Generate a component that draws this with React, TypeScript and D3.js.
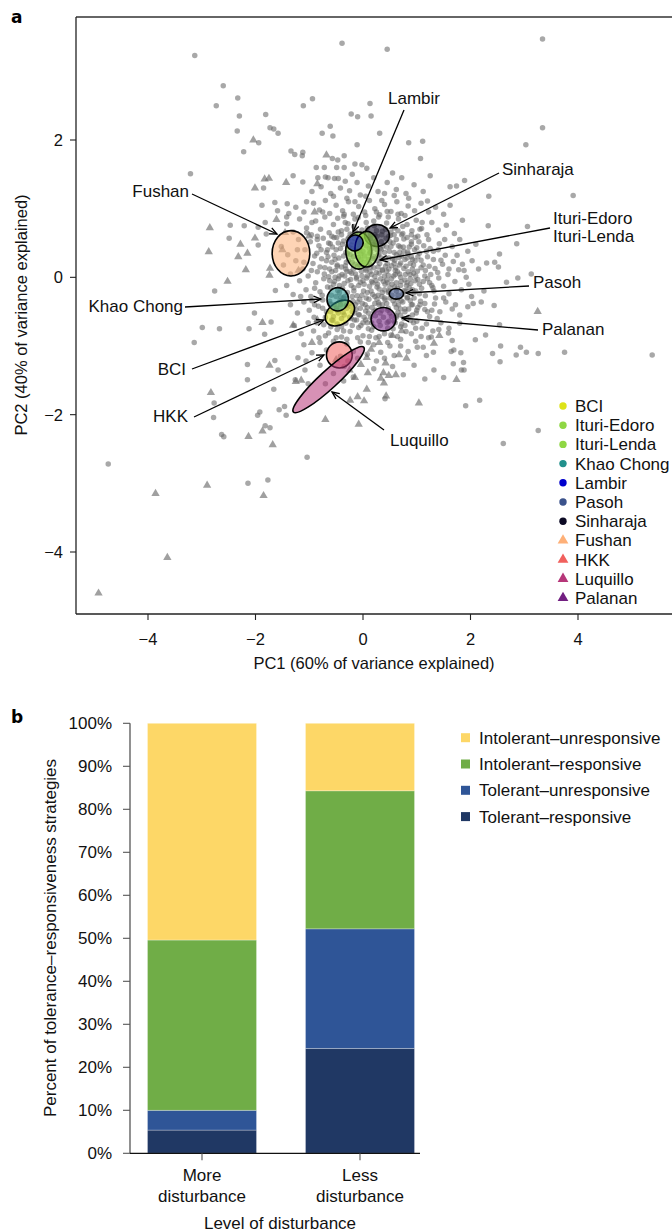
import React from 'react';
import * as d3 from 'd3';

const FONT = '"Liberation Sans", Arial, Helvetica, sans-serif';

// ---------- Panel a data (PC1, PC2) ----------
const outlierCircles: [number, number][] = [
  [-0.39,3.41],[-3.13,3.23],[-2.60,2.79],[-2.33,2.61],[-2.73,2.50],[-2.30,2.35],[-1.81,2.37],[-0.94,2.60],[-1.11,2.50],[-2.34,2.13],
  [-1.73,2.18],[-1.66,2.16],[-1.58,2.10],[-2.22,1.83],[-1.94,1.96],[-3.21,1.51],[-1.34,1.84],[-1.27,1.79],[-1.12,1.82],[-1.13,1.77],
  [-0.76,2.10],[-0.61,2.20],[-0.56,2.06],[-0.22,2.38],[-0.10,2.34],[0.13,2.53],[0.15,2.35],[-0.11,1.93],[-0.57,1.73],[-0.47,1.71],
  [-0.35,1.77],[-0.87,1.60],[-0.72,1.60],[-0.49,1.60],[-0.35,1.60],[-0.15,1.65],[-0.02,1.64],[0.07,1.59],[-1.30,1.48],[-1.12,1.39],
  [-0.84,1.45],[-0.70,1.46],[-0.65,1.45],[-0.53,1.44],[-0.46,1.44],[-0.33,1.40],[-0.11,1.38],[-1.85,1.30],
  [3.34,3.47],[0.45,3.32],[3.34,2.18],[3.03,1.93],[0.31,2.10],[0.85,1.96],[1.11,1.98],[1.07,1.73],[1.25,1.48],[1.89,1.41],
  [1.74,1.33],[1.62,1.32],[2.34,1.18],[3.91,1.19],[1.20,1.11],[2.33,0.75],[3.06,0.74],[2.86,0.49],[2.54,0.34],[2.45,0.22],
  [2.30,0.21],[2.52,0.15],[2.03,0.24],[1.85,0.19],[1.88,0.10],[2.88,-0.01],[3.13,0.05],[2.67,-0.07],[2.44,-0.41],[2.05,-0.38],
  [2.20,-0.36],[2.02,-0.28],
  [5.38,-1.13],[3.75,-1.09],[3.26,-1.11],[3.04,-1.09],[2.93,-1.02],[2.85,-1.13],[2.56,-1.00],[2.41,-1.11],[2.55,-1.23],[2.28,-0.84],
  [2.09,-0.91],[2.54,-0.69],[1.80,-0.67],[1.59,-0.81],[1.66,-0.92],[1.41,-0.76],[1.27,-0.87],[1.82,-1.10],[1.64,-1.08],[1.69,-1.06],
  [1.31,-1.09],[1.18,-1.14],[1.01,-1.02],[1.87,-1.24],[1.68,-1.26],[1.83,-1.35],[1.88,-1.35],[1.32,-1.35],[1.50,-1.46],[2.17,-1.79],
  [1.91,-1.87],[3.26,-2.23],[2.61,-2.42],[0.41,-1.77],
  [-4.74,-2.72],[-2.14,-3.00],[-1.77,-2.95],[-1.04,-2.62],[-2.63,-2.29],[-2.59,-2.32],[-1.82,-2.16],[-1.73,-2.19],[-1.96,-2.01],[-1.92,-1.96],
  [-2.78,-2.04],[-2.77,-1.83],[-1.56,-1.93],[-1.46,-1.88],[-1.43,-2.01],[-1.66,-1.63],[-2.15,-1.49],[-2.15,-1.27],[-2.99,-0.73],[-2.67,-0.75],
  [-3.14,-0.95],[-2.12,-0.75],[-1.83,-0.83],[-1.71,-0.65],[-1.64,-1.21],[-1.58,-1.35],[-1.21,-1.17],[-1.26,-1.49],[-1.08,-1.35],[-1.06,-1.22],
  [-1.02,-1.55],[-0.36,-1.51],
  [-2.47,0.76],[-2.21,0.75],[-2.49,0.57],[-1.95,0.73],[-1.95,0.47],[-2.76,-0.20],[-1.88,1.05],[-1.64,1.09],[-1.59,0.97],[-1.41,1.07],
  [-1.42,0.88],[-1.82,0.80],[-1.80,0.63],[-1.63,-0.19],[-2.02,-0.52]
];

const coreCircles: [number, number][] = [
  [-0.95,1.25],[-0.78,1.32],[-0.60,1.22],[-0.42,1.30],[-0.25,1.26],[-0.05,1.20],[0.10,1.33],[0.28,1.25],[0.45,1.38],[0.62,1.28],
  [0.80,1.22],[0.95,1.35],[0.20,1.45],[-0.20,1.50],[0.55,1.52],[-1.05,1.10],[1.12,1.25],[0.35,1.12],[-0.30,1.15],[0.72,1.45],
  [-1.25,1.02],[-1.10,0.95],[-0.92,1.08],[-0.81,0.98],[-0.70,1.12],[-0.62,0.93],[-0.50,1.05],[-0.38,0.97],[-0.27,1.10],[-0.18,0.92],
  [-0.08,1.03],[0.03,0.95],[0.12,1.12],[0.22,1.00],[0.31,0.91],[0.40,1.06],[0.52,0.96],[0.63,1.10],[0.71,0.93],[0.84,1.04],
  [0.96,0.97],[1.08,1.08],[1.22,0.95],[1.35,1.02],[1.50,0.92],[-0.55,1.18],[0.05,1.18],[0.58,1.19],[-1.38,0.93],[1.62,1.05],
  [-1.42,0.78],[-1.30,0.66],[-1.18,0.85],[-1.05,0.72],[-0.96,0.62],[-0.88,0.82],[-0.79,0.70],[-0.71,0.88],[-0.63,0.65],[-0.55,0.77],
  [-0.47,0.86],[-0.40,0.68],[-0.33,0.80],[-0.24,0.63],[-0.17,0.74],[-0.09,0.87],[-0.02,0.69],[0.06,0.80],[0.14,0.62],[0.21,0.75],
  [0.29,0.88],[0.36,0.67],[0.44,0.79],[0.51,0.61],[0.58,0.72],[0.66,0.85],[0.74,0.64],[0.82,0.77],[0.91,0.68],[0.99,0.83],
  [1.09,0.71],[1.19,0.62],[1.28,0.80],[1.40,0.69],[1.55,0.76],[1.70,0.64],[1.85,0.83],[-0.85,0.60],[-0.13,0.66],[0.47,0.88],
  [0.78,0.90],[1.02,0.60],[-0.58,0.60],[0.25,0.68],[-0.36,0.89],
  [-1.52,0.45],[-1.40,0.33],[-1.20,0.55],[-1.08,0.40],[-0.98,0.52],[-0.90,0.31],[-0.82,0.46],[-0.74,0.57],[-0.68,0.36],[-0.61,0.49],
  [-0.54,0.32],[-0.49,0.58],[-0.42,0.42],[-0.36,0.53],[-0.29,0.35],[-0.22,0.47],[-0.16,0.57],[-0.11,0.38],[-0.04,0.50],[0.03,0.31],
  [0.09,0.55],[0.16,0.42],[0.23,0.52],[0.30,0.34],[0.37,0.46],[0.43,0.57],[0.49,0.38],[0.56,0.50],[0.62,0.33],[0.69,0.44],
  [0.76,0.56],[0.83,0.37],[0.90,0.48],[0.97,0.58],[1.05,0.35],[1.13,0.46],[1.22,0.55],[1.31,0.38],[1.42,0.49],[1.53,0.32],
  [1.66,0.45],[1.80,0.55],[1.95,0.38],[2.10,0.48],[-0.78,0.40],[-0.26,0.58],[0.26,0.40],[0.72,0.31],[1.00,0.43],[0.12,0.35],
  [-0.57,0.44],[0.52,0.45],[-0.06,0.42],[1.25,0.42],[0.40,0.36],
  [-1.48,0.18],[-1.35,0.05],[-1.25,0.24],[-1.12,0.12],[-1.02,0.02],[-0.93,0.20],[-0.85,0.08],[-0.77,0.27],[-0.71,0.14],[-0.64,0.01],
  [-0.58,0.22],[-0.51,0.10],[-0.45,0.28],[-0.39,0.04],[-0.33,0.17],[-0.27,0.25],[-0.21,0.06],[-0.15,0.19],[-0.09,0.29],[-0.03,0.09],
  [0.02,0.22],[0.08,0.02],[0.14,0.15],[0.19,0.27],[0.25,0.07],[0.31,0.20],[0.36,0.11],[0.42,0.28],[0.47,0.03],[0.53,0.17],
  [0.59,0.25],[0.64,0.08],[0.70,0.21],[0.76,0.13],[0.82,0.28],[0.88,0.04],[0.94,0.18],[1.01,0.09],[1.08,0.25],[1.15,0.02],
  [1.23,0.16],[1.31,0.26],[1.39,0.07],[1.48,0.19],[1.58,0.04],[1.68,0.23],[1.78,0.11],[1.92,0.00],[2.15,0.12],[-0.68,0.24],
  [-0.18,0.12],[0.28,0.15],[0.61,0.14],[0.97,0.24],[-0.48,0.18],[0.05,0.12],[0.45,0.20],[0.79,0.04],[1.12,0.18],[-0.96,0.10],
  [-0.30,0.09],[0.22,0.01],[0.67,0.29],[1.34,0.13],
  [-1.42,-0.12],[-1.30,-0.25],[-1.18,-0.05],[-1.06,-0.18],[-0.97,-0.28],[-0.88,-0.08],[-0.80,-0.21],[-0.73,-0.02],[-0.66,-0.14],[-0.59,-0.26],
  [-0.53,-0.06],[-0.47,-0.19],[-0.41,-0.29],[-0.35,-0.09],[-0.29,-0.22],[-0.23,-0.03],[-0.17,-0.15],[-0.11,-0.27],[-0.05,-0.07],[0.01,-0.20],
  [0.07,-0.01],[0.12,-0.13],[0.18,-0.25],[0.24,-0.05],[0.30,-0.17],[0.35,-0.28],[0.41,-0.10],[0.47,-0.22],[0.53,-0.02],[0.59,-0.14],
  [0.65,-0.26],[0.71,-0.06],[0.77,-0.19],[0.83,-0.29],[0.89,-0.09],[0.95,-0.22],[1.02,-0.03],[1.09,-0.16],[1.16,-0.27],[1.24,-0.08],
  [1.32,-0.20],[1.41,-0.01],[1.50,-0.13],[1.60,-0.24],[1.71,-0.06],[1.83,-0.18],[1.97,-0.10],[2.25,-0.20],[-0.62,-0.05],[-0.08,-0.12],
  [0.44,-0.04],[0.86,-0.15],[1.28,-0.12],[-0.38,-0.16],[0.15,-0.20],[0.62,-0.08],[1.05,-0.24],[-0.20,-0.28],[0.27,-0.10],[0.74,-0.25],
  [1.20,-0.02],[-0.90,-0.16],[0.00,-0.05],[0.50,-0.15],[0.97,-0.05],
  [-1.35,-0.40],[-1.22,-0.52],[-1.10,-0.36],[-1.00,-0.48],[-0.91,-0.58],[-0.83,-0.42],[-0.75,-0.33],[-0.68,-0.50],[-0.61,-0.39],[-0.55,-0.57],
  [-0.49,-0.45],[-0.43,-0.34],[-0.37,-0.51],[-0.31,-0.41],[-0.25,-0.58],[-0.19,-0.35],[-0.13,-0.47],[-0.07,-0.55],[-0.01,-0.38],[0.05,-0.49],
  [0.11,-0.32],[0.17,-0.44],[0.23,-0.56],[0.29,-0.37],[0.35,-0.48],[0.41,-0.33],[0.47,-0.45],[0.53,-0.57],[0.59,-0.39],[0.65,-0.51],
  [0.71,-0.34],[0.78,-0.46],[0.85,-0.58],[0.92,-0.40],[0.99,-0.52],[1.07,-0.35],[1.15,-0.47],[1.24,-0.57],[1.33,-0.39],[1.43,-0.50],
  [1.54,-0.36],[1.66,-0.46],[1.80,-0.55],[1.95,-0.43],[-0.70,-0.58],[-0.22,-0.43],[0.20,-0.50],[0.62,-0.44],[1.02,-0.44],[-0.46,-0.52],
  [0.02,-0.58],[0.44,-0.38],[0.88,-0.34],[1.28,-0.48],[-0.95,-0.34],[0.26,-0.32],[0.70,-0.55],
  [-1.28,-0.70],[-1.15,-0.82],[-1.02,-0.66],[-0.92,-0.78],[-0.82,-0.88],[-0.73,-0.69],[-0.64,-0.81],[-0.56,-0.63],[-0.48,-0.76],[-0.40,-0.87],
  [-0.32,-0.67],[-0.24,-0.79],[-0.16,-0.62],[-0.08,-0.73],[0.00,-0.85],[0.08,-0.66],[0.16,-0.77],[0.24,-0.88],[0.32,-0.70],[0.40,-0.82],
  [0.48,-0.64],[0.56,-0.75],[0.64,-0.86],[0.72,-0.68],[0.80,-0.79],[0.89,-0.63],[0.98,-0.74],[1.08,-0.86],[1.18,-0.68],[1.30,-0.78],
  [1.45,-0.66],[1.60,-0.74],[-0.60,-0.72],[-0.20,-0.70],[0.20,-0.72],[0.60,-0.66],[1.00,-0.64],[-0.36,-0.78],[0.12,-0.86],[0.52,-0.84],
  [-1.10,-0.98],[-0.95,-1.10],[-0.80,-0.95],[-0.68,-1.06],[-0.55,-0.93],[-0.42,-1.15],[-0.30,-0.97],[-0.18,-1.08],[-0.05,-0.94],[0.08,-1.12],
  [0.20,-0.98],[0.33,-1.09],[0.46,-0.95],[0.58,-1.14],[0.70,-1.00],[0.84,-1.08],[0.98,-0.93],[1.12,-1.02],[-0.10,-1.18],[0.40,-1.18],
  [0.25,-1.22],[-0.28,-1.22],
  [-0.80,-1.28],[-0.55,-1.40],[-0.35,-1.30],[-0.18,-1.45],[0.20,-1.33],[0.55,-1.30],[0.75,-1.42],[0.95,-1.28],[1.15,-1.48],[-0.70,-1.55],
  [-0.44,0.02],[-0.36,0.31],[-0.12,-0.02],[0.10,0.26],[0.33,-0.02],[0.58,0.36],[0.81,-0.12],[0.92,0.12],[-0.26,-0.38],[0.06,-0.30],
  [0.38,-0.58],[0.66,-0.40],[0.95,-0.30],[-0.50,-0.28],[-0.15,0.40],[0.18,0.48],[0.48,0.12],[0.75,0.44],[-0.32,0.12],[0.00,0.38],
  [0.32,0.42],[0.62,-0.20],[0.85,-0.46],[-0.05,-0.45],[0.22,-0.38],[0.50,-0.30],[0.78,-0.04],[-0.42,-0.40],[-0.20,0.22],[0.13,0.08],
  [0.40,-0.18],[0.68,0.05],[1.05,-0.10],[-0.60,-0.15],[-0.10,0.16],[0.28,-0.26],[0.55,0.27],[0.88,0.20],[-0.35,-0.55],[0.05,-0.62],
  [0.45,-0.66],[0.82,-0.60],[1.15,-0.38],[1.20,0.30],[0.90,0.52],[0.35,0.62],[-0.20,0.52],[-0.65,0.30],[-0.75,-0.45],[-0.48,-0.68],
  [0.10,-0.75],[0.70,-0.72],[1.35,-0.30],[1.45,0.25],[-0.85,0.55],[-0.30,0.70],[0.20,0.82],[0.65,0.68],[1.10,0.80]
];

const denseCircles: [number, number][] = [
  [-0.72,0.05],[-0.55,-0.10],[-0.40,0.15],[-0.28,-0.05],[-0.14,0.05],[0.02,-0.10],[0.16,0.04],[0.30,0.06],[0.44,0.09],[0.57,0.02],
  [0.70,-0.12],[0.84,0.08],[0.98,0.02],[1.12,-0.06],[1.26,0.04],[-0.66,0.40],[-0.52,0.26],[-0.38,0.48],[-0.24,0.33],[-0.08,0.55],
  [0.06,0.46],[0.20,0.30],[0.34,0.52],[0.48,0.28],[0.62,0.55],[0.76,0.38],[0.90,0.30],[1.04,0.52],[1.18,0.38],[-0.62,-0.35],
  [-0.48,-0.48],[-0.34,-0.28],[-0.20,-0.50],[-0.06,-0.32],[0.08,-0.44],[0.22,-0.28],[0.36,-0.40],[0.50,-0.52],[0.64,-0.32],[0.78,-0.50],
  [0.92,-0.55],[1.06,-0.40],[1.20,-0.50],[-0.58,-0.62],[-0.40,-0.72],[-0.22,-0.60],[-0.04,-0.70],[0.14,-0.58],[0.30,-0.64],[0.46,-0.74],
  [0.62,-0.58],[0.78,-0.70],[0.94,-0.66],[-0.46,0.66],[-0.28,0.78],[-0.10,0.62],[0.08,0.72],[0.26,0.60],[0.42,0.70],[0.58,0.62],
  [0.74,0.74],[0.90,0.62],[1.06,0.70],[-0.35,0.92],[-0.15,0.85],[0.05,0.90],[0.25,0.95],[0.45,0.96],[0.65,0.92],[-0.80,0.15],
  [-0.90,-0.40],[-0.86,0.35],[1.30,-0.15],[1.40,0.40],[1.38,-0.60],[-0.70,-0.85],[-0.50,-0.88],[-0.30,-0.90],[-0.10,-0.88],[0.10,-0.95],
  [0.30,-0.86],[0.50,-1.00],[0.70,-0.90],[0.90,-0.82],[1.10,-0.74],[-0.95,0.80],[-0.75,0.95],[0.85,1.15],[0.40,1.22],[-0.15,1.10],
  [-0.62,0.12],[-0.46,-0.02],[-0.31,0.22],[-0.17,-0.20],[-0.02,0.02],[0.12,0.20],[0.26,-0.14],[0.40,0.02],[0.54,-0.26],[0.68,0.18],
  [0.82,-0.30],[0.96,0.40],[-0.54,0.58],[-0.20,0.42],[0.14,0.56],[0.48,0.60],[0.82,0.58],[-0.44,-0.22],[-0.10,-0.36],[0.24,-0.48],
  [0.58,-0.64],[0.92,-0.18],[1.16,0.10],[-0.76,-0.26],[-0.86,-0.66],[1.22,-0.88],[1.50,-0.30],[1.60,0.12],[1.52,0.55],[-1.10,0.22],
  [-1.16,-0.28],[-1.05,0.65],[-1.22,0.40],[1.72,-0.40],[1.75,0.32],[-0.04,0.26],[0.36,-0.22],[0.60,0.04],[0.16,-0.06],[-0.24,0.08],
  [0.80,0.16],[0.46,-0.08],[-0.12,-0.62],[0.34,0.28],[0.70,-0.46]
];

const darkestCircles: [number, number][] = [
  [-0.58,0.08],[-0.50,0.40],[-0.44,-0.12],[-0.40,0.62],[-0.34,0.02],[-0.30,-0.45],[-0.26,0.44],[-0.22,-0.12],[-0.18,0.30],[-0.14,-0.40],
  [-0.10,0.48],[-0.06,0.18],[-0.02,-0.26],[0.02,0.60],[0.06,0.10],[0.10,-0.52],[0.14,0.36],[0.18,-0.08],[0.22,0.62],[0.26,0.24],
  [0.30,-0.40],[0.34,0.40],[0.38,-0.06],[0.42,0.16],[0.46,-0.48],[0.50,0.52],[0.54,-0.10],[0.58,0.20],[0.62,-0.56],[0.66,0.46],
  [0.70,0.00],[0.74,-0.36],[0.78,0.26],[0.82,-0.08],[0.86,0.44],[0.90,-0.40],[0.94,0.06],[0.98,-0.20],[1.02,0.30],[-0.54,-0.40],
  [-0.48,0.16],[-0.36,-0.30],[-0.28,0.56],[-0.16,-0.52],[-0.04,0.34],[0.08,-0.22],[0.20,0.14],[0.32,-0.52],[0.44,0.44],[0.56,-0.34],
  [0.68,0.36],[0.80,-0.20],[0.92,0.26],[-0.46,0.50],[-0.32,0.36],[-0.12,0.00],[0.04,-0.40],[0.24,0.46],[0.40,-0.30],[0.60,0.10],
  [0.76,-0.60],[0.88,-0.02],[-0.60,-0.50],[-0.20,0.62],[0.16,-0.66],[0.52,0.66],[0.72,0.62],[-0.40,-0.60],[0.00,-0.66],[0.36,0.10],
  [-0.52,0.00],[-0.08,-0.54],[0.28,0.32],[0.64,-0.16],[1.00,-0.48],[1.08,0.14],[-0.64,0.50],[0.12,0.42],[0.48,-0.20],[0.84,0.34]
];

const trianglePts: [number, number][] = [
  [-2.04,2.00],[-1.83,1.43],[-1.75,1.44],[-1.43,1.38],[-2.01,1.30],[-0.68,1.78],[-1.61,0.84],[-2.01,0.57],[-2.85,0.72],[-2.87,0.37],
  [-2.28,0.48],[-2.15,0.35],[-2.32,0.30],[-2.18,0.11],[-2.52,-0.06],[-1.74,0.03],[-1.73,0.13],[-1.87,-0.66],[-0.85,1.36],
  [-4.92,-4.60],[-3.64,-4.08],[-3.86,-3.15],[-2.90,-3.03],[-1.85,-3.18],[-1.68,-2.44],[-2.13,-2.32],[-1.87,-2.24],[-2.83,-1.68],[-0.70,-2.07],
  [-0.08,-2.14],[-1.74,-1.28],[-0.24,-1.79],[-0.10,-1.74],[0.02,-1.80],[0.07,-1.63],[0.09,-1.39],[-0.15,-1.46],[-0.04,-1.27],[0.07,-1.17],
  [-1.15,-1.50],[3.25,-0.50],[0.42,-1.25],[0.38,-1.39],[0.33,-1.47],[0.48,-1.43],[0.61,-1.42],[0.39,-1.54],[0.43,-1.73],[1.42,-0.85],
  [1.32,-0.96],[1.74,-1.49],[1.04,-1.83],[0.67,-1.13],[0.81,-1.18],[0.55,-0.85],[0.72,-0.78],[0.30,-0.95],[0.15,-1.05],[-0.25,-1.35],
  [-0.50,-1.20],[-1.50,0.40],[-1.20,0.10],[-1.00,0.60],[-0.90,0.95],[-1.45,0.65],[-1.25,-1.52],[-0.95,-0.95],[-1.30,-0.70],[-0.85,-0.62]
];

// Sites (legend)
const siteNames = ['BCI', 'Ituri-Edoro', 'Ituri-Lenda', 'Khao Chong', 'Lambir', 'Pasoh', 'Sinharaja', 'Fushan', 'HKK', 'Luquillo', 'Palanan'];
const siteShapes = ['circle', 'circle', 'circle', 'circle', 'circle', 'circle', 'circle', 'triangle', 'triangle', 'triangle', 'triangle'];
const siteColors = ['#DDE318', '#8FD744', '#8FD744', '#21908C', '#0000CD', '#3B528B', '#0C0A24', '#FEB078', '#F1605D', '#B63679', '#721F81'];

// Site ellipses (drawing order)
const ellipseSites = ['Fushan', 'HKK', 'Luquillo', 'Palanan', 'BCI', 'Khao Chong', 'Sinharaja', 'Ituri-Edoro', 'Ituri-Lenda', 'Lambir', 'Pasoh'];
const ellipseCx = [-1.34, -0.44, -0.64, 0.38, -0.43, -0.47, 0.26, -0.08, 0.07, -0.15, 0.62];
const ellipseCy = [0.35, -1.13, -1.49, -0.61, -0.52, -0.32, 0.61, 0.39, 0.41, 0.50, -0.24];
const ellipseRx = [0.35, 0.24, 0.89, 0.23, 0.30, 0.20, 0.23, 0.24, 0.22, 0.155, 0.134];
const ellipseRy = [0.33, 0.19, 0.13, 0.17, 0.16, 0.17, 0.16, 0.27, 0.26, 0.114, 0.077];
const ellipseAngle = [0, 0, -42.6, 0, -35, 0, 0, 0, 0, -25, 0];

// ---------- Panel b data ----------
const disturbanceLevels = ['More disturbance', 'Less disturbance'];
const levelLines = [['More', 'disturbance'], ['Less', 'disturbance']];
const strategyNames = ['Tolerant–responsive', 'Tolerant–unresponsive', 'Intolerant–responsive', 'Intolerant–unresponsive'];
const strategyColors = ['#203864', '#2F5597', '#70AD47', '#FDD767'];
const tolerantResponsive = [5.4, 24.4];
const tolerantUnresponsive = [4.6, 27.8];
const intolerantResponsive = [39.6, 32.1];
const intolerantUnresponsive = [50.4, 15.7];
const percentTicks = [0, 10, 20, 30, 40, 50, 60, 70, 80, 90, 100];

// ---------- Layout ----------
const A_LEFT = 76, A_RIGHT = 672, A_TOP = 17, A_BOTTOM = 614;
const x = d3.scaleLinear().domain([-4, 4]).range([148, 578]);
const y = d3.scaleLinear().domain([-4, 2]).range([552, 140]);
const kx = x(1) - x(0);
const ky = y(0) - y(1);

const annotations = [
  { label: ['Fushan'], tx: 189, ty: 197, anchor: 'end', x1: 192, y1: 194, x2: 277, y2: 234 },
  { label: ['Lambir'], tx: 414, ty: 104, anchor: 'middle', x1: 404, y1: 110, x2: 353, y2: 232 },
  { label: ['Sinharaja'], tx: 502, ty: 175, anchor: 'start', x1: 499, y1: 173, x2: 390, y2: 228 },
  { label: ['Ituri-Edoro', 'Ituri-Lenda'], tx: 553, ty: 224, anchor: 'start', x1: 550, y1: 228, x2: 380, y2: 260 },
  { label: ['Pasoh'], tx: 533, ty: 288, anchor: 'start', x1: 529, y1: 286, x2: 406, y2: 293 },
  { label: ['Palanan'], tx: 542, ty: 335, anchor: 'start', x1: 538, y1: 330, x2: 402, y2: 318 },
  { label: ['Luquillo'], tx: 390, ty: 446, anchor: 'start', x1: 384, y1: 430, x2: 332, y2: 392 },
  { label: ['HKK'], tx: 188, ty: 422, anchor: 'end', x1: 194, y1: 417, x2: 324, y2: 355 },
  { label: ['BCI'], tx: 186, ty: 375, anchor: 'end', x1: 192, y1: 369, x2: 324, y2: 320 },
  { label: ['Khao Chong'], tx: 183, ty: 312, anchor: 'end', x1: 185, y1: 307, x2: 321, y2: 299 },
];

const B_LEFT = 130, B_RIGHT = 420;
const yb = d3.scaleLinear().domain([0, 100]).range([1153.3, 723.3]);
const xb = d3.scaleBand().domain(disturbanceLevels).range([123, 439]).paddingInner(0.31).paddingOuter(0.155);

const triSmall = d3.symbol().type(d3.symbolTriangle).size(30)()!;
const triLegend = d3.symbol().type(d3.symbolTriangle).size(50)()!;

function Arrow({ x1, y1, x2, y2 }: any) {
  const ang = Math.atan2(y2 - y1, x2 - x1);
  const len = 8, spread = 0.42;
  const ax = x2 - len * Math.cos(ang - spread), ay = y2 - len * Math.sin(ang - spread);
  const bx = x2 - len * Math.cos(ang + spread), by = y2 - len * Math.sin(ang + spread);
  return (
    <g stroke="#000" strokeWidth={1.3} fill="none">
      <line x1={x1} y1={y1} x2={x2} y2={y2} />
      <polyline points={`${ax},${ay} ${x2},${y2} ${bx},${by}`} />
    </g>
  );
}

export default function App() {
  const allCircles = [...outlierCircles, ...coreCircles, ...denseCircles, ...darkestCircles];
  const series = [tolerantResponsive, tolerantUnresponsive, intolerantResponsive, intolerantUnresponsive];
  const stacked = disturbanceLevels.map((lvl, i) => {
    let acc = 0;
    return series.map((s, k) => {
      const y0 = acc; acc += s[i];
      return { lvl, k, y0, y1: acc };
    });
  });
  const legendBOrder = [3, 2, 1, 0];

  return (
    <svg width={672} height={1232} style={{ position: 'absolute', left: 0, top: 0, background: '#fff' }} fontFamily={FONT}>
      <defs>
        <clipPath id="plotA"><rect x={A_LEFT} y={A_TOP} width={A_RIGHT - A_LEFT} height={A_BOTTOM - A_TOP} /></clipPath>
      </defs>

      {/* Panel a */}
      <text x={11} y={23} fontSize={17} fontWeight="bold" fontFamily='"DejaVu Sans", Arial, sans-serif'>a</text>
      <g clipPath="url(#plotA)">
        {trianglePts.map((p, i) => (
          <path key={'t' + i} d={triSmall} transform={`translate(${x(p[0])},${y(p[1])})`} fill="#666" fillOpacity={0.62} />
        ))}
        {allCircles.map((p, i) => (
          <circle key={'c' + i} cx={x(p[0])} cy={y(p[1])} r={2.75} fill="#666" fillOpacity={0.57} />
        ))}
        {ellipseSites.map((s, i) => {
          const ci = siteNames.indexOf(s);
          const cx = x(ellipseCx[i]), cy = y(ellipseCy[i]);
          return (
            <ellipse key={s} cx={cx} cy={cy} rx={ellipseRx[i] * kx} ry={ellipseRy[i] * ky}
              transform={`rotate(${ellipseAngle[i]} ${cx} ${cy})`}
              fill={siteColors[ci]} fillOpacity={0.55} stroke="#000" strokeWidth={1.6} />
          );
        })}
      </g>
      {/* frame */}
      <line x1={A_LEFT} y1={A_TOP} x2={A_RIGHT} y2={A_TOP} stroke="#333" strokeWidth={1.3} />
      <line x1={A_LEFT} y1={A_TOP} x2={A_LEFT} y2={A_BOTTOM} stroke="#222" strokeWidth={1.3} />
      <line x1={A_LEFT} y1={A_BOTTOM} x2={A_RIGHT} y2={A_BOTTOM} stroke="#222" strokeWidth={1.3} />
      {[-4, -2, 0, 2, 4].map(t => (
        <g key={'xt' + t}>
          <line x1={x(t)} x2={x(t)} y1={A_BOTTOM} y2={A_BOTTOM + 6} stroke="#222" strokeWidth={1.1} />
          <text x={x(t)} y={A_BOTTOM + 31} fontSize={16.5} textAnchor="middle" fill="#111">{t < 0 ? '−' + Math.abs(t) : String(t)}</text>
        </g>
      ))}
      {[-4, -2, 0, 2].map(t => (
        <g key={'yt' + t}>
          <line x1={A_LEFT - 6} x2={A_LEFT} y1={y(t)} y2={y(t)} stroke="#222" strokeWidth={1.1} />
          <text x={A_LEFT - 13} y={y(t) + 6} fontSize={16.5} textAnchor="end" fill="#111">{t < 0 ? '−' + Math.abs(t) : String(t)}</text>
        </g>
      ))}
      <text x={374} y={669} fontSize={16.5} textAnchor="middle" fill="#111">PC1 (60% of variance explained)</text>
      <text transform={`translate(27,315) rotate(-90)`} fontSize={16.5} textAnchor="middle" fill="#111">PC2 (40% of variance explained)</text>

      {annotations.map((a, i) => (
        <g key={'ann' + i}>
          <Arrow x1={a.x1} y1={a.y1} x2={a.x2} y2={a.y2} />
          {a.label.map((l, j) => (
            <text key={l} x={a.tx} y={a.ty + j * 18} fontSize={17} textAnchor={a.anchor as any} fill="#111">{l}</text>
          ))}
        </g>
      ))}

      {siteNames.map((s, i) => {
        const cy = 406 + i * 19.2;
        return (
          <g key={'lg' + s}>
            {siteShapes[i] === 'circle'
              ? <circle cx={563} cy={cy} r={3.7} fill={siteColors[i]} />
              : <path d={triLegend} transform={`translate(563,${cy})`} fill={siteColors[i]} />}
            <text x={575} y={cy + 6} fontSize={17} fill="#111">{s}</text>
          </g>
        );
      })}

      {/* Panel b */}
      <text x={11} y={723} fontSize={17} fontWeight="bold" fontFamily='"DejaVu Sans", Arial, sans-serif'>b</text>
      {stacked.map((segs) => segs.map(sg => (
        <rect key={sg.lvl + sg.k} x={xb(sg.lvl)!} width={xb.bandwidth()} y={yb(sg.y1)} height={yb(sg.y0) - yb(sg.y1)}
          fill={strategyColors[sg.k]} stroke="#ffffff" strokeOpacity={0.35} strokeWidth={0.8} />
      )))}
      <line x1={B_LEFT} x2={B_LEFT} y1={yb(100)} y2={yb(0)} stroke="#555" strokeWidth={1.3} />
      <line x1={B_LEFT} x2={B_RIGHT} y1={yb(0)} y2={yb(0)} stroke="#111" strokeWidth={1.3} />
      {percentTicks.map(t => (
        <g key={'pb' + t}>
          <line x1={B_LEFT - 7} x2={B_LEFT} y1={yb(t)} y2={yb(t)} stroke="#555" strokeWidth={1.1} />
          <text x={B_LEFT - 18} y={yb(t) + 6} fontSize={17} textAnchor="end" fill="#111">{t + '%'}</text>
        </g>
      ))}
      {disturbanceLevels.map((lvl, i) => {
        const cx = xb(lvl)! + xb.bandwidth() / 2;
        return (
          <g key={'xl' + lvl}>
            <line x1={cx} x2={cx} y1={yb(0)} y2={yb(0) + 7} stroke="#555" strokeWidth={1.1} />
            <text x={cx} y={1181} fontSize={17} textAnchor="middle" fill="#111">{levelLines[i][0]}</text>
            <text x={cx} y={1202} fontSize={17} textAnchor="middle" fill="#111">{levelLines[i][1]}</text>
          </g>
        );
      })}
      <text x={280} y={1229} fontSize={17} textAnchor="middle" fill="#111">Level of disturbance</text>
      <text transform={`translate(56,938) rotate(-90)`} fontSize={17} textAnchor="middle" fill="#111">Percent of tolerance–responsiveness strategies</text>

      {legendBOrder.map((k, j) => {
        const cy = 737.7 + j * 26.3;
        return (
          <g key={'lb' + k}>
            <rect x={461} y={cy - 4.5} width={9} height={9} fill={strategyColors[k]} />
            <text x={479} y={cy + 6} fontSize={17} fill="#111">{strategyNames[k]}</text>
          </g>
        );
      })}
    </svg>
  );
}
